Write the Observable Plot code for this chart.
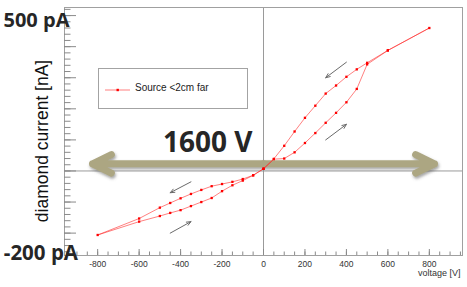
<!DOCTYPE html>
<html>
<head>
<meta charset="utf-8">
<script src="https://cdn.jsdelivr.net/npm/d3@7"></script>
<script src="https://cdn.jsdelivr.net/npm/@observablehq/plot@0.6"></script>
<style>
  html, body { margin: 0; padding: 0; background: #fff; }
  #wrap { position: relative; width: 467px; height: 287px; }
  #wrap svg { display: block; }
  #legend { position: absolute; left: 98px; top: 68px; width: 150px; height: 41px;
            box-sizing: border-box; border: 1px solid #a3a3a3; background: #fff; }
  #legend svg { position: absolute; left: 5px; top: 15px; }
  #legend span { position: absolute; left: 36px; top: 13px; font: 10px "Liberation Sans", Arial, sans-serif; color: #222; white-space: nowrap; }
</style>
</head>
<body>
<div id="wrap"></div>
<script>
// Measurement sequence (in order of acquisition): voltage [V], diamond current [nA]
const voltage = [
  0, 50, 100, 150, 200, 250, 300, 350, 400, 450, 500, 600, 800,
  600, 500, 450, 400, 350, 300, 250, 200, 150, 100, 50, 0,
  -50, -100, -150, -200, -250, -300, -350, -400, -450, -500, -600, -800,
  -600, -500, -450, -400, -350, -300, -250, -200, -150, -100, -50, 0
];
const current = [
  0.007, 0.038, 0.040, 0.060, 0.090, 0.122, 0.155, 0.187, 0.221, 0.264, 0.343, 0.388, 0.460,
  0.388, 0.348, 0.327, 0.303, 0.275, 0.249, 0.210, 0.171, 0.127, 0.081, 0.039, 0.007,
  -0.014, -0.026, -0.035, -0.042, -0.049, -0.061, -0.074, -0.088, -0.103, -0.118, -0.153, -0.206,
  -0.163, -0.145, -0.135, -0.126, -0.113, -0.100, -0.087, -0.065, -0.046, -0.031, -0.014, 0.007
];
// axis ticks
const xTickLabels = [-800, -600, -400, -200, 0, 200, 400, 600, 800];
const xMinorTicks = d3.range(-950, 951, 50);
const yMajorTicks = [-0.2, -0.1, 0, 0.1, 0.2, 0.3, 0.4, 0.5];
const yMinorTicks = d3.range(-26, 53, 2).map(d => d / 100);
// annotation arrows showing sweep direction
const dirFromV = [400, 300, -350, -450];
const dirFromI = [0.35, 0.10, -0.035, -0.20];
const dirToV = [300, 400, -450, -350];
const dirToI = [0.30, 0.15, -0.07, -0.163];
// big double arrow (1600 V span)
const spanTips = [-825, 825];
const spanLevel = 0.023;
const legendLabel = "Source <2cm far";

const W = 467, H = 287, mL = 64, mR = 5, mT = 7, mB = 32;
const fw = W - mL - mR, fh = H - mT - mB;
const rows = voltage.map((v, k) => ({v, c: current[k]}));
const dirIdx = dirFromV.map((_, k) => k);
const tickColor = "#8a8a8a";

const chart = Plot.plot({
  width: W, height: H,
  marginLeft: mL, marginRight: mR, marginTop: mT, marginBottom: mB,
  style: {fontFamily: "'Liberation Sans', Arial, sans-serif", background: "white", overflow: "visible"},
  x: {domain: [-960, 960]},
  y: {domain: [-0.272, 0.526], axis: null},
  marks: [
    Plot.ruleX([0], {stroke: "#9a9a9a"}),
    Plot.ruleY([0], {stroke: "#9a9a9a"}),
    Plot.frame({stroke: "#a0a0a0"}),
    Plot.ruleY(yMinorTicks, {y: d => d, stroke: tickColor, insetRight: fw - 6.5}),
    Plot.ruleY(yMajorTicks, {y: d => d, stroke: tickColor, insetRight: fw - 12}),
    Plot.ruleX(xMinorTicks, {x: d => d, stroke: tickColor, insetTop: fh - 3.5}),
    Plot.ruleX(xTickLabels, {x: d => d, stroke: tickColor, insetTop: fh - 6}),
    Plot.axisX(xTickLabels, {tickSize: 0, tickPadding: 5, fontSize: 8.5, fill: "#333", label: null, tickFormat: d => String(d)}),
    Plot.text(["voltage [V]"], {frameAnchor: "bottom-right", textAnchor: "end", lineAnchor: "middle", dx: -2, dy: 18, fontSize: 9, fill: "#333"}),
    Plot.text(["diamond current [nA]"], {frameAnchor: "left", rotate: -90, textAnchor: "middle", lineAnchor: "middle", dx: -22.6, dy: 9.5, fontSize: 17.5, fill: "#111"}),
    // big 1600 V span arrow
    Plot.arrow(spanTips, {x1: () => 0, x2: d => d, y1: () => spanLevel, y2: () => spanLevel,
      stroke: "#aca682", strokeWidth: 7, headLength: 4.5, headAngle: 52}),
    // data
    Plot.line(rows, {x: "v", y: "c", stroke: "#ff2a2a", strokeWidth: 0.8, strokeOpacity: 0.75}),
    Plot.dot(rows, {x: "v", y: "c", symbol: "square", r: 1.3, fill: "#ff0000", stroke: "none"}),
    // sweep-direction arrows
    Plot.arrow(dirIdx, {x1: k => dirFromV[k], y1: k => dirFromI[k], x2: k => dirToV[k], y2: k => dirToI[k],
      stroke: "#6a6a6a", strokeWidth: 1, headLength: 7, headAngle: 45}),
    Plot.text(["1600 V"], {x: () => -269, y: () => 0.089, lineAnchor: "middle", fontSize: 28, fontWeight: "bold",
      fontFamily: "'Open Sans', sans-serif", fill: "#262626"}),
    Plot.text(["500 pA"], {frameAnchor: "top-left", textAnchor: "start", lineAnchor: "middle", dx: -61, dy: 12.7,
      fontSize: 20, fontWeight: "bold", fontFamily: "'Open Sans', sans-serif", fill: "#262626"}),
    Plot.text(["-200 pA"], {frameAnchor: "bottom-left", textAnchor: "start", lineAnchor: "middle", dx: -60.7, dy: -2,
      fontSize: 20.5, fontWeight: "bold", fontFamily: "'Open Sans', sans-serif", fill: "#262626"})
  ]
});

// soft shadow for the big arrow
const svgSel = d3.select(chart);
const filt = svgSel.insert("defs", ":first-child").append("filter").attr("id", "arrowShadow")
  .attr("x", "-10%").attr("y", "-100%").attr("width", "120%").attr("height", "300%");
filt.append("feDropShadow").attr("dx", 1).attr("dy", 2).attr("stdDeviation", 1.6)
  .attr("flood-color", "#555").attr("flood-opacity", 0.55);
const arrowGroups = chart.querySelectorAll('g[aria-label="arrow"]');
if (arrowGroups.length) arrowGroups[0].setAttribute("filter", "url(#arrowShadow)");

const wrap = document.getElementById("wrap");
wrap.appendChild(chart);

// legend
const legend = document.createElement("div");
legend.id = "legend";
legend.innerHTML = '<svg width="28" height="12"><line x1="1" y1="6" x2="26" y2="6" stroke="#ff2a2a" stroke-opacity="0.75" stroke-width="0.8"/><rect x="12.5" y="4.8" width="2.4" height="2.4" fill="#ff0000"/></svg>';
const span = document.createElement("span");
span.textContent = legendLabel;
legend.appendChild(span);
wrap.appendChild(legend);
</script>
</body>
</html>
